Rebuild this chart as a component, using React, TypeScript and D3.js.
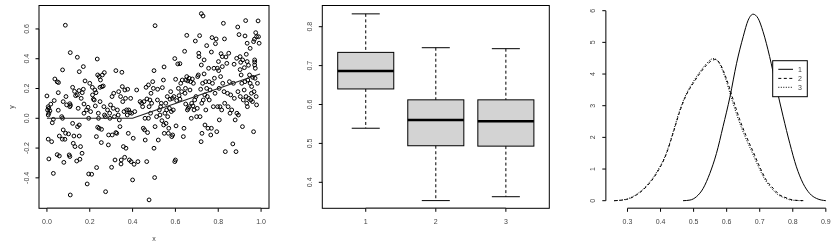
import React from "react";
import * as d3 from "d3";

// ---------- Panel 1: scatter ----------
const scatterPoints: [number, number][] = [
  [0.0,0.15],[0.006,0.078],[0.009,0.067],[0.003,0.056],[0.009,0.034],[0.014,0.05],[0.006,0.022],[0.006,-0.14],[0.022,-0.157],[0.009,-0.273],[0.03,-0.007],[0.03,-0.37],[0.034,0.119],[0.037,0.264],[0.048,0.245],[0.054,0.24],[0.053,0.172],[0.053,0.054],[0.058,-0.119],[0.069,0.011],[0.073,0.0],[0.048,-0.244],[0.058,-0.253],[0.073,0.325],[0.076,0.112],[0.076,-0.078],[0.084,-0.141],[0.079,-0.296],[0.086,0.625],[0.089,0.146],[0.087,-0.1],[0.092,0.09],[0.072,-0.14],[0.018,0.095],[0.025,-0.03],
  [0.101,-0.105],[0.107,0.098],[0.107,0.078],[0.11,0.087],[0.104,-0.246],[0.107,-0.257],[0.109,0.441],[0.109,-0.515],[0.12,0.208],[0.123,-0.168],[0.12,-0.034],[0.126,-0.119],[0.129,0.181],[0.134,0.152],[0.131,-0.19],[0.139,-0.287],[0.142,0.41],[0.142,0.157],[0.143,-0.056],[0.146,0.067],[0.15,0.186],[0.151,-0.119],[0.151,-0.045],[0.157,-0.19],[0.154,-0.275],[0.151,0.313],[0.16,0.134],[0.165,0.172],[0.164,-0.235],[0.17,0.347],[0.17,0.195],[0.173,0.096],[0.173,0.034],[0.178,0.251],[0.185,0.056],[0.188,-0.441],[0.192,0.074],[0.195,0.0],[0.195,-0.374],
  [0.2,0.235],[0.204,0.045],[0.209,-0.376],[0.212,0.208],[0.213,0.157],[0.217,0.128],[0.221,0.123],[0.224,0.19],[0.226,0.083],[0.229,0.172],[0.231,-0.123],[0.232,-0.331],[0.235,0.398],[0.237,0.291],[0.237,-0.06],[0.24,0.034],[0.244,0.28],[0.241,0.0],[0.244,-0.067],[0.248,0.208],[0.248,0.112],[0.25,0.257],[0.254,-0.163],[0.255,-0.074],[0.257,0.213],[0.259,0.291],[0.263,0.217],[0.266,0.078],[0.269,0.022],[0.268,0.307],[0.273,0.011],[0.274,-0.493],[0.283,0.056],[0.287,-0.179],[0.288,-0.112],[0.293,0.034],[0.294,0.0],[0.297,0.09],
  [0.302,-0.329],[0.304,0.146],[0.305,-0.112],[0.31,0.067],[0.312,0.168],[0.315,0.011],[0.318,-0.28],[0.322,0.32],[0.322,-0.096],[0.326,-0.101],[0.329,0.056],[0.333,0.022],[0.335,0.179],[0.338,-0.011],[0.341,-0.056],[0.344,0.146],[0.346,-0.307],[0.347,-0.28],[0.35,0.309],[0.352,0.213],[0.354,0.112],[0.357,-0.19],[0.36,0.045],[0.363,-0.262],[0.364,0.19],[0.367,0.134],[0.369,-0.201],[0.372,0.056],[0.375,0.022],[0.377,0.195],[0.38,-0.101],[0.382,0.056],[0.385,-0.28],[0.388,0.038],[0.391,0.134],[0.393,-0.291],[0.396,0.034],
  [0.4,-0.414],[0.403,-0.134],[0.407,-0.309],[0.41,0.045],[0.419,0.19],[0.425,-0.291],[0.435,0.112],[0.442,0.101],[0.447,0.078],[0.45,-0.067],[0.453,0.112],[0.456,-0.078],[0.458,0.0],[0.459,-0.146],[0.463,0.208],[0.466,-0.291],[0.467,0.13],[0.47,-0.096],[0.474,0.0],[0.474,0.224],[0.477,0.078],[0.481,0.123],[0.484,0.034],[0.477,-0.548],[0.486,0.168],[0.489,0.101],[0.494,0.246],[0.497,0.201],[0.5,0.32],
  [0.5,-0.201],[0.505,0.622],[0.503,-0.398],[0.505,-0.056],[0.512,0.011],[0.516,0.123],[0.517,0.195],[0.52,-0.146],[0.525,0.056],[0.528,0.022],[0.531,0.078],[0.534,0.101],[0.537,-0.016],[0.539,0.206],[0.544,0.257],[0.545,-0.045],[0.547,0.345],[0.548,-0.101],[0.551,0.034],[0.555,0.101],[0.556,-0.034],[0.559,0.056],[0.562,0.146],[0.564,0.011],[0.567,-0.101],[0.569,-0.067],[0.572,0.067],[0.575,0.128],[0.578,0.179],[0.581,0.045],[0.583,-0.123],[0.586,0.134],[0.587,-0.112],[0.59,0.056],[0.593,0.146],[0.597,0.401],[0.597,-0.291],
  [0.6,-0.28],[0.601,0.262],[0.603,-0.051],[0.606,0.119],[0.611,0.365],[0.614,0.201],[0.617,0.152],[0.621,0.367],[0.621,0.128],[0.625,0.235],[0.629,0.179],[0.632,0.257],[0.637,-0.123],[0.64,-0.067],[0.643,0.45],[0.645,0.168],[0.647,0.201],[0.648,0.096],[0.649,0.257],[0.653,0.557],[0.653,0.28],[0.656,0.056],[0.658,0.251],[0.66,0.067],[0.664,0.269],[0.665,0.078],[0.668,0.19],[0.671,0.246],[0.674,0.0],[0.676,0.101],[0.679,0.264],[0.682,0.083],[0.684,0.235],[0.687,0.056],[0.69,0.123],[0.693,0.519],[0.696,0.146],[0.699,0.011],
  [0.702,0.067],[0.704,0.28],[0.707,0.291],[0.709,0.437],[0.71,0.414],[0.713,0.555],[0.715,0.011],[0.718,0.195],[0.72,-0.157],[0.721,0.703],[0.721,0.358],[0.723,0.101],[0.724,-0.101],[0.727,0.235],[0.729,0.687],[0.73,0.123],[0.734,0.392],[0.734,0.298],[0.737,0.157],[0.738,-0.045],[0.741,0.246],[0.742,0.056],[0.746,0.488],[0.746,0.201],[0.749,0.146],[0.752,-0.067],[0.755,0.336],[0.757,0.246],[0.758,0.123],[0.762,0.19],[0.765,-0.112],[0.768,0.445],[0.768,-0.067],[0.771,0.542],[0.773,0.235],[0.777,0.078],[0.78,0.336],[0.782,0.269],[0.785,0.168],[0.787,0.501],[0.79,0.533],[0.793,-0.09],[0.796,0.336],[0.797,0.078],
  [0.801,0.381],[0.802,0.32],[0.804,0.201],[0.805,-0.011],[0.808,0.078],[0.811,0.28],[0.813,0.434],[0.816,0.056],[0.819,0.414],[0.819,0.347],[0.821,0.235],[0.824,0.638],[0.827,0.179],[0.829,0.533],[0.83,0.101],[0.833,-0.224],[0.836,0.412],[0.84,0.369],[0.843,0.168],[0.846,0.078],[0.849,0.437],[0.852,0.246],[0.855,0.034],[0.858,0.157],[0.863,0.056],[0.868,-0.172],[0.871,0.235],[0.874,0.363],[0.875,0.134],[0.879,-0.011],[0.883,-0.224],[0.886,0.403],[0.887,0.034],[0.891,0.613],[0.892,0.179],[0.894,0.022],[0.897,0.562],
  [0.902,0.414],[0.902,0.327],[0.903,0.146],[0.905,0.376],[0.907,0.291],[0.91,0.235],[0.913,-0.056],[0.914,0.392],[0.917,0.123],[0.921,0.19],[0.922,0.34],[0.925,0.553],[0.925,0.246],[0.928,0.656],[0.93,0.146],[0.931,0.43],[0.933,0.101],[0.935,0.504],[0.935,0.381],[0.936,0.078],[0.938,0.257],[0.941,0.356],[0.942,0.134],[0.946,0.291],[0.949,0.47],[0.949,0.235],[0.952,0.123],[0.955,0.168],[0.956,0.213],[0.96,0.112],[0.961,0.275],[0.965,0.515],[0.965,-0.09],[0.967,0.179],[0.969,0.531],[0.97,0.392],[0.97,0.378],[0.97,0.358],[0.972,0.269],[0.973,0.336],[0.975,0.575],[0.977,0.146],[0.979,0.548],[0.979,0.09],[0.983,0.235],[0.986,0.654],[0.988,0.548],[0.991,0.504],
];
const fitX = [0.0, 0.1, 0.2, 0.3, 0.4, 0.5, 0.6, 0.7, 0.8, 0.9, 0.995];
const fitY = [0.0, 0.0, 0.0, 0.0, 0.0, 0.05, 0.1, 0.15, 0.2, 0.25, 0.297];
const scatterXTicks = [0, 0.2, 0.4, 0.6, 0.8, 1.0];
const scatterYTicks = [-0.4, -0.2, 0, 0.2, 0.4, 0.6];

// ---------- Panel 2: boxplot ----------
const boxCats = ["1", "2", "3"];
const whiskLow = [0.539, 0.353, 0.363];
const q1 = [0.64, 0.494, 0.493];
const med = [0.686, 0.56, 0.557];
const q3 = [0.734, 0.612, 0.612];
const whiskHigh = [0.833, 0.746, 0.7435];
const boxYTicks = [0.4, 0.5, 0.6, 0.7, 0.8];

// ---------- Panel 3: densities ----------
const d1x = [0.468,0.489,0.509,0.529,0.549,0.569,0.589,0.61,0.63,0.65,0.665,0.68,0.695,0.71,0.73,0.75,0.771,0.791,0.811,0.831,0.851,0.872,0.9];
const d1y = [0,0.02,0.13,0.39,0.86,1.49,2.34,3.28,4.34,5.18,5.7,5.89,5.76,5.34,4.55,3.6,2.65,1.81,1.07,0.55,0.23,0.07,0];
const d2x = [0.26,0.297,0.327,0.357,0.388,0.418,0.438,0.458,0.478,0.499,0.519,0.539,0.554,0.567,0.579,0.599,0.62,0.64,0.66,0.68,0.7,0.72,0.741,0.761,0.781,0.801,0.838];
const d2y = [0,0.04,0.18,0.44,0.86,1.49,2.13,2.81,3.34,3.71,4.02,4.28,4.42,4.46,4.34,3.86,3.18,2.55,2.02,1.55,1.07,0.65,0.39,0.18,0.09,0.02,0];
const d3x = [0.26,0.297,0.327,0.357,0.388,0.418,0.438,0.458,0.478,0.499,0.519,0.539,0.552,0.562,0.575,0.595,0.615,0.635,0.655,0.675,0.695,0.715,0.735,0.755,0.775,0.795,0.83];
const d3y = [0,0.05,0.2,0.47,0.9,1.52,2.17,2.86,3.38,3.76,4.07,4.33,4.46,4.49,4.38,3.9,3.22,2.58,2.04,1.57,1.1,0.68,0.4,0.19,0.09,0.02,0];
const densXTicks = [0.3, 0.4, 0.5, 0.6, 0.7, 0.8, 0.9];
const densYTicks = [0, 1, 2, 3, 4, 5, 6];
const legendLabels = ["1", "2", "3"];

const FONT = "'Liberation Sans', Arial, Helvetica, sans-serif";
const FS = 7;
const TXT = "#444";
const TICK = 3.5;
const AXIS = "#555";
const AXW = 1.5;

export default function App() {
  const top = 5.5, bottom = 208.3;

  const x1 = d3.scaleLinear().domain([-0.037, 1.037]).range([39, 269]);
  const y1 = d3.scaleLinear().domain([-0.6045, 0.7575]).range([bottom, top]);
  const fitLine = d3.line<number>().x((_, i) => x1(fitX[i])).y((_, i) => y1(fitY[i]));

  const x2 = d3.scaleLinear().domain([0.38, 3.62]).range([322.3, 549.3]);
  const y2 = d3.scaleLinear().domain([0.3332, 0.8545]).range([bottom, top]);
  const bw = 0.4, sw = 0.2;

  const x3 = d3.scaleLinear().domain([0.2344, 0.9256]).range([605.8, 834.3]);
  const y3 = d3.scaleLinear().domain([0, 6]).range([200.7, 10.7]);
  const dline = (xs: number[], ys: number[]) =>
    d3.line<number>().x((_, i) => x3(xs[i])).y((_, i) => y3(ys[i])).curve(d3.curveMonotoneX)(xs) || "";

  const legX = 772.7, legY = 60.7;
  const legRows = [69.3, 78.4, 87.3];
  const dashes = ["none", "3,2.5", "1,1.5"];

  return (
    <svg width={838} height={248} style={{ position: "absolute", left: 0, top: 0, background: "#fff", willChange: "transform" }} fontFamily={FONT}>
      <rect width={838} height={248} fill="#fff" />
      {/* ---------- Panel 1 ---------- */}
      <rect x={39} y={top} width={230} height={bottom - top} fill="none" stroke="#000" strokeWidth={1} />
      <line x1={39} x2={39} y1={y1(-0.4)} y2={y1(0.6)} stroke={AXIS} strokeWidth={AXW} />
      <line x1={x1(0)} x2={x1(1)} y1={bottom} y2={bottom} stroke={AXIS} strokeWidth={AXW} />
      {scatterXTicks.map((t) => (
        <g key={"sx" + t}>
          <line x1={x1(t)} x2={x1(t)} y1={bottom} y2={bottom + TICK} stroke="#000" />
          <text x={x1(t)} y={224.3} fontSize={FS} textAnchor="middle" fill={TXT}>{t.toFixed(1)}</text>
        </g>
      ))}
      {scatterYTicks.map((t) => (
        <g key={"sy" + t}>
          <line x1={39} x2={39 - TICK} y1={y1(t)} y2={y1(t)} stroke="#000" />
          <text transform={`translate(28.5,${y1(t)}) rotate(-90)`} fontSize={FS} textAnchor="middle" fill={TXT}>{t.toFixed(1)}</text>
        </g>
      ))}
      <text x={154} y={240.5} fontSize={FS} textAnchor="middle" fill={TXT}>x</text>
      <text transform={`translate(13.5,${(top + bottom) / 2}) rotate(-90)`} fontSize={FS} textAnchor="middle" fill={TXT}>y</text>
      {scatterPoints.map(([px, py], i) => (
        <circle key={i} cx={x1(px)} cy={y1(py)} r={1.9} fill="none" stroke="#000" strokeWidth={1} />
      ))}
      <path d={fitLine(fitX) || ""} fill="none" stroke="#222" strokeWidth={1.1} />

      {/* ---------- Panel 2 ---------- */}
      <rect x={322.3} y={top} width={227} height={bottom - top} fill="none" stroke="#000" strokeWidth={1} />
      <line x1={322.3} x2={322.3} y1={y2(0.4)} y2={y2(0.8)} stroke={AXIS} strokeWidth={AXW} />
      <line x1={x2(1)} x2={x2(3)} y1={bottom} y2={bottom} stroke={AXIS} strokeWidth={AXW} />
      {boxCats.map((c, i) => {
        const cx = x2(i + 1);
        return (
          <g key={"b" + c}>
            <line x1={cx} x2={cx} y1={y2(whiskHigh[i])} y2={y2(q3[i])} stroke="#000" strokeDasharray="3,2.5" />
            <line x1={cx} x2={cx} y1={y2(q1[i])} y2={y2(whiskLow[i])} stroke="#000" strokeDasharray="3,2.5" />
            <line x1={x2(i + 1 - sw)} x2={x2(i + 1 + sw)} y1={y2(whiskHigh[i])} y2={y2(whiskHigh[i])} stroke="#000" />
            <line x1={x2(i + 1 - sw)} x2={x2(i + 1 + sw)} y1={y2(whiskLow[i])} y2={y2(whiskLow[i])} stroke="#000" />
            <rect x={x2(i + 1 - bw)} y={y2(q3[i])} width={x2(i + 1 + bw) - x2(i + 1 - bw)} height={y2(q1[i]) - y2(q3[i])} fill="#d3d3d3" stroke="#000" />
            <line x1={x2(i + 1 - bw)} x2={x2(i + 1 + bw)} y1={y2(med[i])} y2={y2(med[i])} stroke="#000" strokeWidth={2.5} />
            <line x1={cx} x2={cx} y1={bottom} y2={bottom + TICK} stroke="#000" />
            <text x={cx} y={224.3} fontSize={FS} textAnchor="middle" fill={TXT}>{c}</text>
          </g>
        );
      })}
      {boxYTicks.map((t) => (
        <g key={"by" + t}>
          <line x1={322.3} x2={322.3 - TICK} y1={y2(t)} y2={y2(t)} stroke="#000" />
          <text transform={`translate(311.8,${y2(t)}) rotate(-90)`} fontSize={FS} textAnchor="middle" fill={TXT}>{t.toFixed(1)}</text>
        </g>
      ))}

      {/* ---------- Panel 3 ---------- */}
      <line x1={x3(0.3)} x2={x3(0.9)} y1={bottom} y2={bottom} stroke={AXIS} strokeWidth={AXW} />
      {densXTicks.map((t) => (
        <g key={"dx" + t}>
          <line x1={x3(t)} x2={x3(t)} y1={bottom} y2={bottom + TICK} stroke="#000" />
          <text x={x3(t)} y={224.3} fontSize={FS} textAnchor="middle" fill={TXT}>{t.toFixed(1)}</text>
        </g>
      ))}
      <line x1={605.8} x2={605.8} y1={y3(0)} y2={y3(6)} stroke={AXIS} strokeWidth={AXW} />
      {densYTicks.map((t) => (
        <g key={"dy" + t}>
          <line x1={605.8} x2={605.8 - TICK} y1={y3(t)} y2={y3(t)} stroke="#000" />
          <text transform={`translate(595.3,${y3(t)}) rotate(-90)`} fontSize={FS} textAnchor="middle" fill={TXT}>{t}</text>
        </g>
      ))}
      <path d={dline(d1x, d1y)} fill="none" stroke="#000" strokeWidth={1} />
      <path d={dline(d2x, d2y)} fill="none" stroke="#000" strokeWidth={1} strokeDasharray="3,2.5" />
      <path d={dline(d3x, d3y)} fill="none" stroke="#000" strokeWidth={1} strokeDasharray="1,1.5" />
      <rect x={legX} y={legY} width={34.6} height={36} fill="#fff" stroke="#000" />
      {legendLabels.map((l, i) => (
        <g key={"lg" + l}>
          <line x1={778.3} x2={793} y1={legRows[i]} y2={legRows[i]} stroke="#000" strokeDasharray={dashes[i]} />
          <text x={798} y={legRows[i] + 2.4} fontSize={FS} fill={TXT}>{l}</text>
        </g>
      ))}
    </svg>
  );
}
